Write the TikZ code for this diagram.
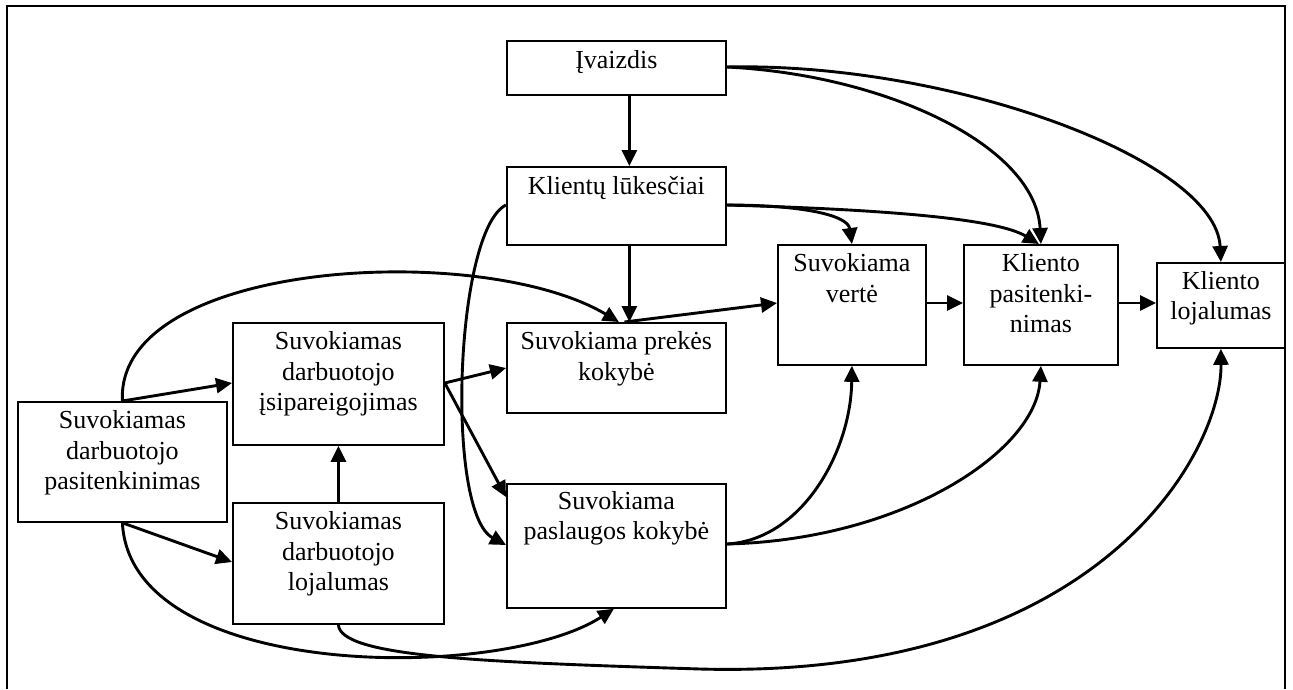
\documentclass[tikz,border=0pt]{standalone}
\usepackage{fontspec}
\setmainfont{Liberation Serif}
\usetikzlibrary{arrows.meta}
\begin{document}
\begin{tikzpicture}[x=1pt,y=-1pt,
  box/.style={draw, line width=1.8pt, inner sep=0pt, anchor=north west},
  txt/.style={anchor=north, inner sep=0pt, align=center, font=\fontsize{26}{30.5}\selectfont},
  conn/.style={line width=2.9pt, -{Triangle[length=16pt,width=15pt]}},
  frame/.style={line width=1.8pt}]
\useasboundingbox (0,0) rectangle (1293,689);
\draw[frame] (7,689) -- (7,6) -- (1285,6) -- (1285,689);
% boxes
\node[box, minimum width=219pt, minimum height=54pt]  (iv)   at (506,40)  {};
\node[box, minimum width=219pt, minimum height=78pt]  (kl)   at (506,166) {};
\node[box, minimum width=219pt, minimum height=90pt]  (pk)   at (506,322) {};
\node[box, minimum width=148pt, minimum height=120pt] (sv)   at (777,244) {};
\node[box, minimum width=154pt, minimum height=120pt] (kp)   at (963,244) {};
\node[box, minimum width=128pt, minimum height=85pt]  (kloj) at (1156,262) {};
\node[box, minimum width=211pt, minimum height=122pt] (ip)   at (232,322) {};
\node[box, minimum width=209pt, minimum height=120pt] (dp)   at (17,401)  {};
\node[box, minimum width=211pt, minimum height=121pt] (dl)   at (232,502) {};
\node[box, minimum width=219pt, minimum height=124pt] (pa)   at (506,483) {};
% texts
\node[txt] (tiv)   at ([yshift=-7pt]iv.north)   {\strut Įvaizdis};
\node[txt] (tkl)   at ([yshift=-6.5pt]kl.north)   {\strut Klientų lūkesčiai};
\node[txt] (tpk)   at ([yshift=-6pt]pk.north)   {\strut Suvokiama prekės\\kokybė};
\node[txt] (tsv)   at ([yshift=-6pt]sv.north)   {\strut Suvokiama\\vertė};
\node[txt] (tkp)   at ([yshift=-6pt]kp.north)   {\strut Kliento\\pasitenki-\\nimas};
\node[txt] (tkloj) at ([yshift=-5.5pt]kloj.north) {\strut Kliento\\lojalumas};
\node[txt] (tip)   at ([yshift=-6pt]ip.north)   {\strut Suvokiamas\\darbuotojo\\įsipareigojimas};
\node[txt] (tdp)   at ([yshift=-6pt]dp.north)   {\strut Suvokiamas\\darbuotojo\\pasitenkinimas};
\node[txt] (tdl)   at ([yshift=-6pt]dl.north)   {\strut Suvokiamas\\darbuotojo\\lojalumas};
\node[txt] (tpa)   at ([yshift=-4.5pt]pa.north)   {\strut Suvokiama\\paslaugos kokybė};
% connectors
\draw[conn] ([xshift=13pt]iv.south) -- ([xshift=13pt]kl.north);
\draw[conn] ([yshift=-27pt]iv.north east) .. controls +(160,8) and +(-5,-98) .. (kp.north);
\draw[conn] ([yshift=-27pt]iv.north east) .. controls +(225,-5) and +(-5,-102) .. (kloj.north);
\draw[conn] ([yshift=-39pt]kl.north east) .. controls +(75,0) and +(-4,-29) .. (sv.north);
\draw[conn] ([yshift=-39pt]kl.north east) .. controls +(175,5) and +(-40,-24) .. ([xshift=-2pt]kp.north);
\draw[conn] ([xshift=13pt]kl.south) -- ([xshift=13pt]pk.north);
\draw[conn] ([yshift=-39pt]kl.north west) .. controls +(-51,25) and +(-61,-33) .. ([yshift=-62pt]pa.north west);
\draw[conn] ([yshift=-61pt]ip.north east) -- ([yshift=-46pt]pk.north west);
\draw[conn] ([yshift=-61pt]ip.north east) -- ([yshift=-14pt]pa.north west);
\draw[conn] (dp.north) .. controls +(-7,-141) and +(-138,-82) .. ([xshift=2.5pt]pk.north);
\draw[conn] ([xshift=8pt]pk.north) -- ([yshift=-59pt]sv.north west);
\draw[conn] ([yshift=-59pt]sv.north east) -- ([yshift=-59pt]kp.north west);
\draw[conn] ([yshift=-59pt]kp.north east) -- ([yshift=-41pt]kloj.north west);
\draw[conn] ([yshift=-61pt]pa.north east) .. controls +(75,-4) and +(-1,86) .. (sv.south);
\draw[conn] ([yshift=-61pt]pa.north east) .. controls +(175,-4) and +(-5,86) .. (kp.south);
\draw[conn] (dp.north) -- ([yshift=-61pt]ip.north west);
\draw[conn] (dp.south) -- ([yshift=-60pt]dl.north west);
\draw[conn] (dp.south) .. controls +(8,159) and +(-113,73) .. ([xshift=-2.5pt]pa.south);
\coordinate (m19) at (700,669);
\draw[conn] (dl.south) .. controls +(2,32) and +(-220,-7) .. (m19) .. controls +(400,11) and +(1,103) .. (kloj.south);
\draw[conn] (dl.north) -- (ip.south);
\end{tikzpicture}
\end{document}
